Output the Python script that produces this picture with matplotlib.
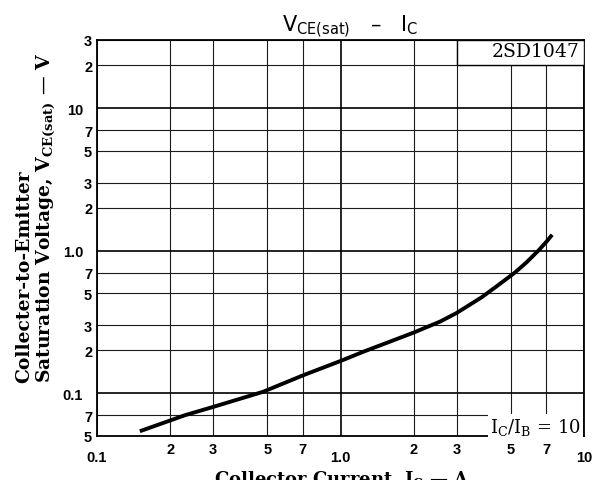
import matplotlib
matplotlib.use("Agg")
import matplotlib.pyplot as plt
from matplotlib.patches import Rectangle
from matplotlib.ticker import FixedLocator, FixedFormatter

# collector current (A) and saturation voltage (V)
ic = [0.15, 0.23, 0.3, 0.48, 0.7, 1.0, 1.26, 1.6, 2.0, 2.57, 3.0, 3.8, 4.4,
      5.2, 5.8, 6.5, 7.0, 7.4]
vce_sat = [0.054, 0.07, 0.08, 0.102, 0.133, 0.168, 0.197, 0.23, 0.266, 0.318,
           0.365, 0.47, 0.565, 0.7, 0.825, 1.0, 1.15, 1.29]

x_major = [0.1, 1.0, 10]
x_major_labels = ["0.1", "1.0", "10"]
x_minor = [0.2, 0.3, 0.5, 0.7, 2, 3, 5, 7]
x_minor_labels = ["2", "3", "5", "7", "2", "3", "5", "7"]

y_major = [0.1, 1.0, 10]
y_major_labels = ["0.1", "1.0", "10"]
y_minor = [0.05, 0.07, 0.2, 0.3, 0.5, 0.7, 2, 3, 5, 7, 20, 30]
y_minor_labels = ["5", "7", "2", "3", "5", "7", "2", "3", "5", "7", "2", "3"]

part_no = "2SD1047"
condition = r"I$_\mathregular{C}$/I$_\mathregular{B}$ = 10"

TICK_SIZE = 10.5

fig = plt.figure(figsize=(5.92, 4.81), dpi=100)
ax = fig.add_axes([97 / 592, 1 - 437 / 481, 487 / 592, 396 / 481])

ax.set_xscale("log")
ax.set_yscale("log")
ax.set_xlim(0.1, 10)
ax.set_ylim(0.05, 30)

ax.xaxis.set_major_locator(FixedLocator(x_major))
ax.xaxis.set_major_formatter(FixedFormatter(x_major_labels))
ax.xaxis.set_minor_locator(FixedLocator(x_minor))
ax.xaxis.set_minor_formatter(FixedFormatter(x_minor_labels))
ax.yaxis.set_major_locator(FixedLocator(y_major))
ax.yaxis.set_major_formatter(FixedFormatter(y_major_labels))
ax.yaxis.set_minor_locator(FixedLocator(y_minor))
ax.yaxis.set_minor_formatter(FixedFormatter(y_minor_labels))

ax.tick_params(which="both", length=0)
ax.tick_params(axis="x", which="major", pad=10)
ax.tick_params(axis="x", which="minor", pad=4)
ax.tick_params(axis="y", which="major", pad=10)
ax.tick_params(axis="y", which="minor", pad=3.5)

ax.grid(which="major", color="black", lw=1.2)
ax.grid(which="minor", color="#1a1a1a", lw=0.8)
for sp in ax.spines.values():
    sp.set_linewidth(1.3)

ax.plot(ic, vce_sat, color="black", lw=2.8, solid_capstyle="butt", zorder=4)

# part number box in the top-right grid cell
ax.add_patch(Rectangle((3, 20), 7, 10, facecolor="white", edgecolor="black",
                       lw=1.0, zorder=3))
ax.text(9.6, 25, part_no, ha="right", va="center", family="DejaVu Serif",
        size=13.5, zorder=5)
ax.text(9.7, 0.058, condition, ha="right", va="center", family="DejaVu Serif",
        size=13, zorder=5,
        bbox=dict(facecolor="white", edgecolor="none", pad=1.5))

fig.text(350 / 592, 0.944, r"V$_\mathregular{CE(sat)}$   –   I$_\mathregular{C}$",
         ha="center", va="center", family="DejaVu Sans", size=15)

fig.text(37 / 592, 1 - 383 / 481,
         "Collecter-to-Emitter\nSaturation Voltage, V$_\\mathregular{CE(sat)}$ — V",
         rotation=90, ha="center", va="bottom", multialignment="left",
         family="DejaVu Serif", weight="bold", size=13.5, linespacing=1.1)

fig.text(342 / 592, 1 - 470 / 481, r"Collector Current, I$_\mathregular{C}$ — A",
         ha="center", va="top", family="DejaVu Serif", weight="bold", size=13)

# same heavy sans on every tick label, decades included
fig.canvas.draw()
for axis in (ax.xaxis, ax.yaxis):
    for t in axis.get_major_ticks() + axis.get_minor_ticks():
        t.label1.set_fontfamily("Liberation Sans")
        t.label1.set_fontweight("bold")
        t.label1.set_fontsize(TICK_SIZE)

fig.savefig("out.png", dpi=100)
